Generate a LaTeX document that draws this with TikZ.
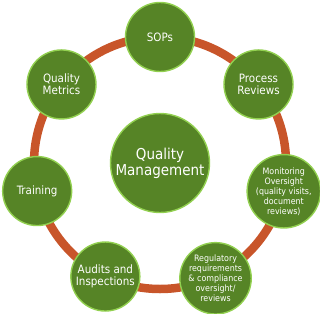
\documentclass[tikz,border=0pt]{standalone}
\usepackage{fontspec}
\setmainfont{DejaVu Sans Condensed}
\usepackage{xcolor}
\definecolor{QGreen}{RGB}{86,132,38}
\definecolor{QLight}{RGB}{146,208,80}
\definecolor{QOrange}{RGB}{200,85,42}

\begin{document}
\begin{tikzpicture}[
    x=1pt, y=1pt,
    hub/.style={circle, fill=QGreen, draw=QLight, line width=1.4pt,
      minimum size=99pt, inner sep=0pt, text=white, align=center,
      font=\fontsize{15}{16}\selectfont},
    spoke/.style={circle, fill=QGreen, draw=QLight, line width=1.4pt,
      minimum size=69pt, inner sep=0pt, text=white, align=center,
      font=\fontsize{11.5}{12.5}\selectfont},
    smallspoke/.style={spoke, minimum size=62pt,
      font=\fontsize{8.8}{10}\selectfont}
]
  \useasboundingbox (-160,-150) rectangle (160,163);

  % ring behind everything
  \coordinate (centre) at (0,0);
  \draw[QOrange, line width=8.5pt] (centre) circle (126);

  \node[hub] (qm) at (centre) {Quality\\Management};

  \node[spoke] (sops)     at (90:126)     {SOPs};
  \node[spoke] (process)  at (38.57:126)  {Process\\Reviews};
  \node[smallspoke] (monitor) at (-12.86:127) {Monitoring\\Oversight\\(quality visits,\\document\\reviews)};
  \node[smallspoke] (regul)   at (-64.29:128) {Regulatory\\requirements\\\& compliance\\oversight/\\reviews};
  \node[spoke] (audits)   at (-115.71:126) {Audits and\\Inspections};
  \node[spoke] (training) at (-167.14:126) {Training};
  \node[spoke] (metrics)  at (141.43:126) {Quality\\Metrics};
\end{tikzpicture}
\end{document}
